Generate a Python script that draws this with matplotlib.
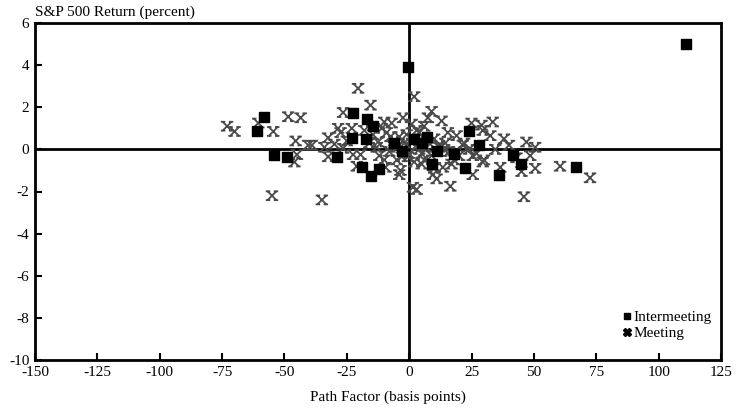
import matplotlib
matplotlib.use("Agg")
import matplotlib.pyplot as plt
from matplotlib.path import Path
from matplotlib.lines import Line2D

plt.rcParams['font.family'] = ['Liberation Serif', 'DejaVu Serif']
plt.rcParams['axes.unicode_minus'] = False

# intermeeting moves (squares)
inter_x = [111, -0.5, -58, -61, -54, -49, -29, -22.5, -17, -14.5, -23, -17.5,
           -19, -15.5, -12, 24, 28, 22.5, 9, 41.5, 45, 36, 67,
           2, 5, -3, 11, 18, -6, 7]
inter_y = [5.0, 3.9, 1.55, 0.85, -0.25, -0.35, -0.35, 1.75, 1.45, 1.1, 0.55, 0.5,
           -0.85, -1.25, -0.95, 0.85, 0.2, -0.9, -0.7, -0.25, -0.7, -1.2, -0.85,
           0.5, 0.3, -0.1, -0.1, -0.2, 0.3, 0.6]

# scheduled meetings (x marks)
meet_x = [-73, -70, -60.5, -54.5, -48.5, -43.5, -45.5, -40.5, -45, -46, -55, -35,
          -20.5, -15.5, -26.5, -2.5, -10, -7, -28.5, -27.5, -23, -32.5, -39, -34,
          -26.5, -32.5, -22.5, -19.5, -21, -9.5, -4, -3.5, -14.5, -12.5, -7.5, -5,
          -2.5, -5, -3, -11, -18, -9, -16, -12, -8, -25, -30,
          2, 9, 7.5, 13, 33.5, 29.5, 32.5, 15.5, 19, 25, 29, 22, 14.5, 34.5, 29.5,
          36.5, 13.5, 17, 9.5, 11, 16.5, 25.5, 1.5, 3, -0.5, 5, 47, 50.5, 48.5,
          50.5, 45, 60.5, 72.5, 46, 30, 25.5, 21.5, 10, 4, 6, 1, 3, 8, 12, 16, 20,
          18, 24, 27, 6, 10, -1, 2, 40, 43, 38,
          -6, -2, 1, 4, 7, -4, 0, 3, -7, 9, 14, -13, -10, 5, 12]
meet_y = [1.1, 0.85, 1.25, 0.85, 1.55, 1.5, 0.4, 0.2, -0.25, -0.6, -2.2, -2.4,
          2.9, 2.1, 1.75, 1.5, 1.3, 1.25, 1.0, 0.8, 1.0, 0.55, 0.2, 0.1,
          0.05, -0.35, -0.25, -0.25, -0.8, -0.85, -1.2, -1.0, 0.7, 0.35, 0.6, 0.1,
          0.05, -0.5, -0.35, 1.0, 0.9, 0.8, 0.3, -0.3, -0.1, 0.4, 0.25,
          2.5, 1.8, 1.5, 1.35, 1.3, 0.9, 0.65, 0.8, 0.65, 1.25, 1.15, 0.3, 0.3, 0.0, -0.6,
          -0.85, -0.85, -0.7, -1.2, -1.4, -1.75, -1.2, -1.8, -1.9, -0.35, -0.2, 0.35, 0.1, -0.3,
          -0.9, -1.05, -0.8, -1.35, -2.25, -0.5, -0.3, 0.2, -0.9, 0.8, 1.1, 1.2, 0.2, 0.3, 0.1, -0.1, -0.3,
          -0.5, 0.0, -0.2, -0.5, 0.5, 0.7, -0.6, 0.2, -0.4, 0.5,
          0.4, 0.3, 0.5, 0.0, 0.1, 0.6, -0.2, 0.9, 0.2, -0.3, 0.0, 0.1, -0.5, -0.7, 0.2]

xticks = list(range(-150, 126, 25))
yticks = list(range(-10, 7, 2))

# x mark with small serifs at the ends, like the original
serif_x = Path(
    [(-1, -1), (1, 1), (-1, 1), (1, -1),
     (-1.4, 1), (-0.4, 1), (0.4, 1), (1.4, 1),
     (-1.4, -1), (-0.4, -1), (0.4, -1), (1.4, -1)],
    [Path.MOVETO, Path.LINETO, Path.MOVETO, Path.LINETO] * 3)

fig = plt.figure(figsize=(7.42, 4.13), dpi=100)
ax = fig.add_axes([35 / 742, 53 / 413, 686 / 742, 337 / 413])

ax.axhline(0, color='black', lw=2, zorder=1)
ax.axvline(0, color='black', lw=2, zorder=1)

ax.scatter(meet_x, meet_y, marker=serif_x, s=80, facecolors='none',
           edgecolors='#4a4a4a', linewidths=1.3, zorder=2)
ax.scatter(inter_x, inter_y, marker='s', s=45, color='black', zorder=3)

ax.set_xlim(-150, 125)
ax.set_ylim(-10, 6)
ax.set_xticks(xticks)
ax.set_yticks(yticks)
ax.tick_params(direction='in', length=5, width=1.5, labelsize=11, pad=4)
for s in ax.spines.values():
    s.set_linewidth(2)

handles = [Line2D([], [], ls='none', marker='s', color='black', markersize=5),
           Line2D([], [], ls='none', marker='X', color='black', markersize=6)]
ax.legend(handles, ['Intermeeting', 'Meeting'], loc='lower right',
          bbox_to_anchor=(0.995, 0.04), frameon=False, fontsize=11,
          handlelength=0.6, handletextpad=0.1, labelspacing=0.15, borderaxespad=0)

fig.text(35 / 742, 1 - 12 / 413, 'S&P 500 Return (percent)', fontsize=11,
         ha='left', va='center')
fig.text(388 / 742, 1 - 397 / 413, 'Path Factor (basis points)', fontsize=11,
         ha='center', va='center')

fig.savefig('out.png', dpi=100)
